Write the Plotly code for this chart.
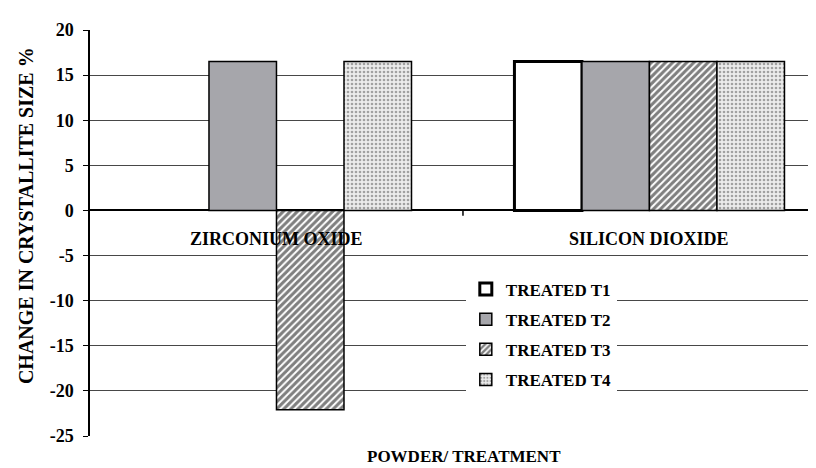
import plotly.graph_objects as go

categories = ["ZIRCONIUM OXIDE", "SILICON DIOXIDE"]
series_names = ["TREATED T1", "TREATED T2", "TREATED T3", "TREATED T4"]
t1 = [None, 16.5]
t2 = [16.5, 16.5]
t3 = [-22.1, 16.5]
t4 = [16.5, 16.5]
y_ticks = [-25, -20, -15, -10, -5, 0, 5, 10, 15, 20]
y_ticktext = ["-25", "-20", "-15", "-10", "-5", "0", "5", "10", "15", "20"]
y_title = "CHANGE IN CRYSTALLITE SIZE %"
x_title = "POWDER/ TREATMENT"

FONT = "Liberation Serif, Times New Roman, serif"
fig = go.Figure()

styles = [
    dict(color="white", line=dict(color="black", width=3)),
    dict(color="#a6a6ab", line=dict(color="black", width=1.5)),
    dict(color="white", line=dict(color="black", width=1.5),
         pattern=dict(shape="/", fgcolor="black", bgcolor="white", size=5, solidity=0.6)),
    dict(color="#e6e6e6", line=dict(color="black", width=1.5),
         pattern=dict(shape=".", fgcolor="#555555", bgcolor="#ececec", size=4, solidity=0.35)),
]
for i, (name, vals) in enumerate(zip(series_names, [t1, t2, t3, t4])):
    fig.add_trace(go.Bar(x=categories, y=vals, name="<b>" + name + "</b>", marker=styles[i],
                         legendgroup=name))

fig.update_layout(
    width=816, height=468,
    margin=dict(l=82, r=0, t=22, b=40),
    paper_bgcolor="white", plot_bgcolor="white",
    barmode="group", bargap=0.276, bargroupgap=0,
    font=dict(family=FONT, color="black", size=17),
    showlegend=True,
    legend=dict(x=0.512, y=0.405, xanchor="left", yanchor="top",
                bgcolor="white", borderwidth=0, traceorder="grouped",
                tracegroupgap=5,
                font=dict(family=FONT, size=17, color="black", weight="bold")),
    xaxis=dict(range=[-0.5, 1.468], showticklabels=False, ticks="",
               showgrid=False, showline=False, zeroline=False),
    yaxis=dict(range=[-25, 20], tickvals=y_ticks, ticktext=["<b>" + t + "</b>" for t in y_ticktext],
               showgrid=True, gridcolor="#474747", gridwidth=1,
               zeroline=True, zerolinecolor="black", zerolinewidth=1.5,
               showline=True, linecolor="black", linewidth=1.5,
               ticks="outside", ticklen=5, tickcolor="black", ticklabelstandoff=6,
               tickfont=dict(family=FONT, size=18, weight="bold")),
)

for c in categories:
    fig.add_annotation(x=c, y=0, xref="x", yref="y", text="<b>" + c + "</b>", showarrow=False,
                       yshift=-29, yanchor="middle",
                       font=dict(family=FONT, size=18, weight="bold"))

fig.add_shape(type="line", xref="x", yref="y", x0=0.5, x1=0.5, y0=0, y1=-0.6,
              line=dict(color="black", width=1.5))

fig.add_annotation(xref="paper", yref="paper", x=-0.087, y=0.542, text="<b>" + y_title + "</b>",
                   textangle=-90, showarrow=False, xanchor="center", yanchor="middle",
                   font=dict(family=FONT, size=20, weight="bold"))
fig.add_annotation(xref="paper", yref="paper", x=0.509, y=-0.05, text="<b>" + x_title + "</b>",
                   showarrow=False, xanchor="center", yanchor="middle",
                   font=dict(family=FONT, size=17, weight="bold"))

fig.write_html("out.html")
